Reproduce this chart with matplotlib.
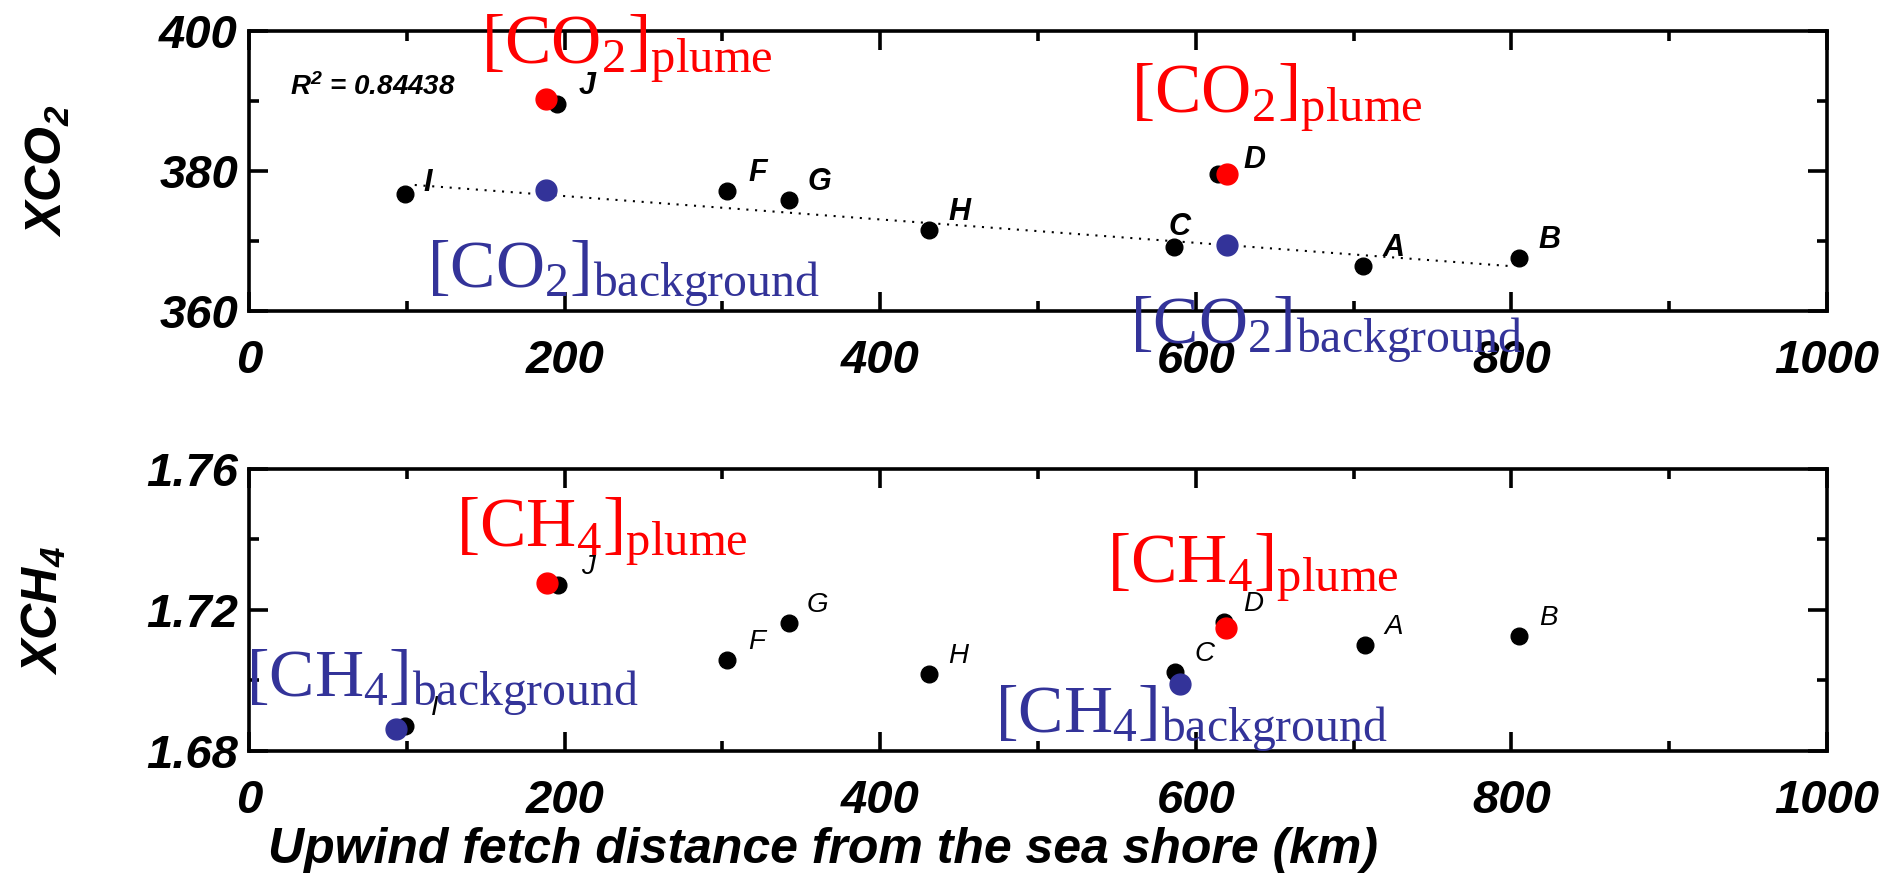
import matplotlib
matplotlib.use("Agg")
import matplotlib.pyplot as plt
from matplotlib.ticker import MultipleLocator

plt.rcParams['font.family'] = ['Liberation Sans', 'DejaVu Sans']
plt.rcParams['mathtext.fontset'] = 'custom'
plt.rcParams['mathtext.rm'] = 'Liberation Serif:style=normal:weight=normal'
plt.rcParams['mathtext.sf'] = 'Liberation Sans:style=italic:weight=bold'

# site letters and positions (km from the sea shore)
sites = ['A', 'B', 'C', 'D', 'F', 'G', 'H', 'I', 'J']

co2_x = [706, 805, 586, 614, 303, 342, 431, 99, 195]
co2_y = [366.4, 367.6, 369.2, 379.6, 377.2, 375.8, 371.6, 376.7, 389.6]
co2_plume_x = [188, 620]
co2_plume_y = [390.3, 379.6]
co2_bg_x = [188, 620]
co2_bg_y = [377.3, 369.4]
trend_x = [105, 800]
trend_y = [378.0, 366.4]
r2_text = r'$\mathsf{R^2}$ = 0.84438'

ch4_x = [707, 805, 587, 618, 303, 342, 431, 99, 196]
ch4_y = [1.7101, 1.7125, 1.7024, 1.7166, 1.7057, 1.7162, 1.7019, 1.6870, 1.7272]
ch4_plume_x = [189, 619]
ch4_plume_y = [1.7276, 1.7150]
ch4_bg_x = [93, 590]
ch4_bg_y = [1.6863, 1.6991]

RED = '#ff0000'
BLUE = '#333399'
BI = dict(fontweight='bold', fontstyle='italic')

fig = plt.figure(figsize=(18.91, 8.80), dpi=100)
ax1 = fig.add_axes([0.1317, 0.6466, 0.8345, 0.3182])
ax2 = fig.add_axes([0.1317, 0.1466, 0.8345, 0.3205])


def style(ax, ymaj, ymin, fmt):
    ax.set_xlim(0, 1000)
    ax.xaxis.set_major_locator(MultipleLocator(200))
    ax.xaxis.set_minor_locator(MultipleLocator(100))
    ax.yaxis.set_major_locator(MultipleLocator(ymaj))
    ax.yaxis.set_minor_locator(MultipleLocator(ymin))
    ax.tick_params(which='both', direction='in', top=True, right=True, width=2.6)
    ax.tick_params(which='major', length=14, labelsize=34)
    ax.tick_params(which='minor', length=7)
    ax.tick_params(axis='x', pad=20)
    ax.tick_params(axis='y', pad=8)
    for s in ax.spines.values():
        s.set_linewidth(2.6)
    ax.yaxis.set_major_formatter(fmt)
    for lab in ax.get_xticklabels() + ax.get_yticklabels():
        lab.set_fontweight('bold')
        lab.set_fontstyle('italic')


style(ax1, 20, 10, '{x:.0f}')
ax1.set_ylim(360, 400)
style(ax2, 0.04, 0.02, '{x:.2f}')
ax2.set_ylim(1.68, 1.76)

# top panel: CO2
ax1.plot(trend_x, trend_y, color='black', lw=1.5, ls=(0, (1, 3.2)))
ax1.plot(co2_x, co2_y, 'o', color='black', ms=12, clip_on=False)
ax1.plot(co2_plume_x, co2_plume_y, 'o', color=RED, ms=15)
ax1.plot(co2_bg_x, co2_bg_y, 'o', color=BLUE, ms=15)
for s, x, y in zip(sites, co2_x, co2_y):
    off = (22, 13)
    if s == 'I':
        off = (16, 8)
    if s == 'C':
        off = (4, 14)
    if s == 'D':
        off = (26, 10)
    ax1.annotate(s, (x, y), xytext=off, textcoords='offset points',
                 ha='center', va='center', fontsize=22, **BI)
ax1.text(26, 392.0, r2_text, fontsize=20, va='center', **BI)

co2_plume = r'$\mathrm{[CO_2]_{plume}}$'
co2_bg = r'$\mathrm{[CO_2]_{background}}$'
ax1.text(147, 395.4, co2_plume, color=RED, fontsize=50, va='baseline', clip_on=False)
ax1.text(559, 388.3, co2_plume, color=RED, fontsize=50, va='baseline', clip_on=False)
ax1.text(113, 363.3, co2_bg, color=BLUE, fontsize=49, va='baseline', clip_on=False)
ax1.text(558, 355.3, co2_bg, color=BLUE, fontsize=49, va='baseline', clip_on=False)

ax1.set_ylabel(r'$\mathsf{XCO_2}$', fontsize=36)
ax1.yaxis.set_label_coords(-0.112, 0.5)

# bottom panel: CH4
ax2.plot(ch4_x, ch4_y, 'o', color='black', ms=12)
ax2.plot(ch4_plume_x, ch4_plume_y, 'o', color=RED, ms=15)
ax2.plot(ch4_bg_x, ch4_bg_y, 'o', color=BLUE, ms=15)
for s, x, y in zip(sites, ch4_x, ch4_y):
    ax2.annotate(s, (x, y), xytext=(21, 13), textcoords='offset points',
                 ha='center', va='center', fontsize=20, fontstyle='italic')

ch4_plume = r'$\mathrm{[CH_4]_{plume}}$'
ch4_bg = r'$\mathrm{[CH_4]_{background}}$'
ax2.text(131, 1.7379, ch4_plume, color=RED, fontsize=50, va='baseline', clip_on=False)
ax2.text(544, 1.7279, ch4_plume, color=RED, fontsize=50, va='baseline', clip_on=False)
ax2.text(-2, 1.6953, ch4_bg, color=BLUE, fontsize=49, va='baseline', clip_on=False)
ax2.text(473, 1.6851, ch4_bg, color=BLUE, fontsize=49, va='baseline', clip_on=False)

ax2.set_ylabel(r'$\mathsf{XCH_4}$', fontsize=36)
ax2.yaxis.set_label_coords(-0.115, 0.5)
fig.text(0.435, 0.034, 'Upwind fetch distance from the sea shore (km)',
         fontsize=36, ha='center', va='center', **BI)

fig.savefig('out.png', dpi=100)
